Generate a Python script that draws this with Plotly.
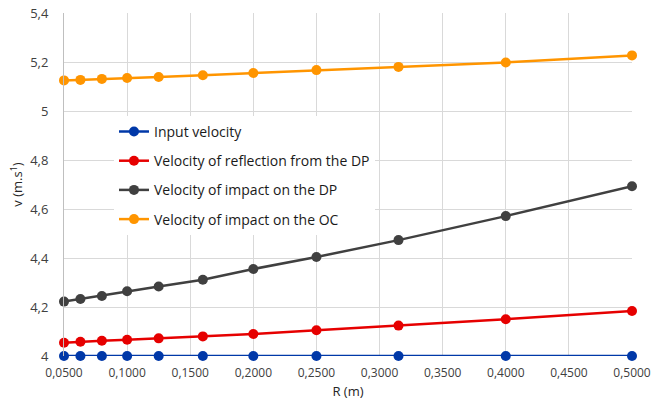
import plotly.graph_objects as go

R = [0.05, 0.063, 0.08, 0.1, 0.125, 0.16, 0.2, 0.25, 0.315, 0.4, 0.5]
v_input = [4.0] * 11
v_reflection_dp = [4.054, 4.058, 4.062, 4.066, 4.072, 4.080, 4.090, 4.105, 4.124, 4.150, 4.184]
v_impact_dp = [4.222, 4.233, 4.245, 4.264, 4.284, 4.311, 4.355, 4.404, 4.473, 4.571, 4.693]
v_impact_oc = [5.125, 5.127, 5.131, 5.135, 5.139, 5.146, 5.155, 5.167, 5.180, 5.198, 5.227]

series = [
    ("Input velocity", v_input, "#0038A8"),
    ("Velocity of reflection from the DP", v_reflection_dp, "#E60000"),
    ("Velocity of impact on the DP", v_impact_dp, "#404040"),
    ("Velocity of impact on the OC", v_impact_oc, "#FF9500"),
]

fig = go.Figure()
for i, (name, vals, col) in enumerate(series):
    fig.add_trace(go.Scatter(
        x=R, y=vals, name=name, mode="lines+markers",
        line=dict(color=col, width=2.5),
        marker=dict(color=col, size=10),
        cliponaxis=False, legendgroup=f"g{i}",
    ))

font = "Open Sans, Liberation Sans, sans-serif"
fig.update_layout(
    width=664, height=406,
    margin=dict(l=64, r=32, t=13, b=50),
    paper_bgcolor="white", plot_bgcolor="white",
    separators=",.",
    font=dict(family=font, size=12, color="#404040"),
    showlegend=True,
    legend=dict(x=0.088, y=0.70, xanchor="left", yanchor="top",
                bgcolor="white", font=dict(size=14, color="#1a1a1a"),
                tracegroupgap=8, itemwidth=30),
    xaxis=dict(range=[0.05, 0.5], dtick=0.05, tick0=0.05, tickformat=".4f",
               showgrid=True, gridcolor="#D9D9D9", zeroline=False,
               showline=False, ticks="", ticklabelstandoff=8, automargin=False,
               tickfont=dict(size=12, color="#404040"),
               title=dict(text="R (m)", font=dict(size=13, color="#262626"), standoff=6)),
    yaxis=dict(range=[4, 5.4], dtick=0.2, showgrid=True, gridcolor="#D9D9D9",
               zeroline=False, showline=True, linecolor="#BFBFBF", ticks="",
               ticklabelstandoff=12, automargin=False,
               tickfont=dict(size=13, color="#404040"),
               title=dict(text="v (m.s<sup>1</sup>)", font=dict(size=13, color="#262626"), standoff=4)),
)

fig.write_html("out.html")
